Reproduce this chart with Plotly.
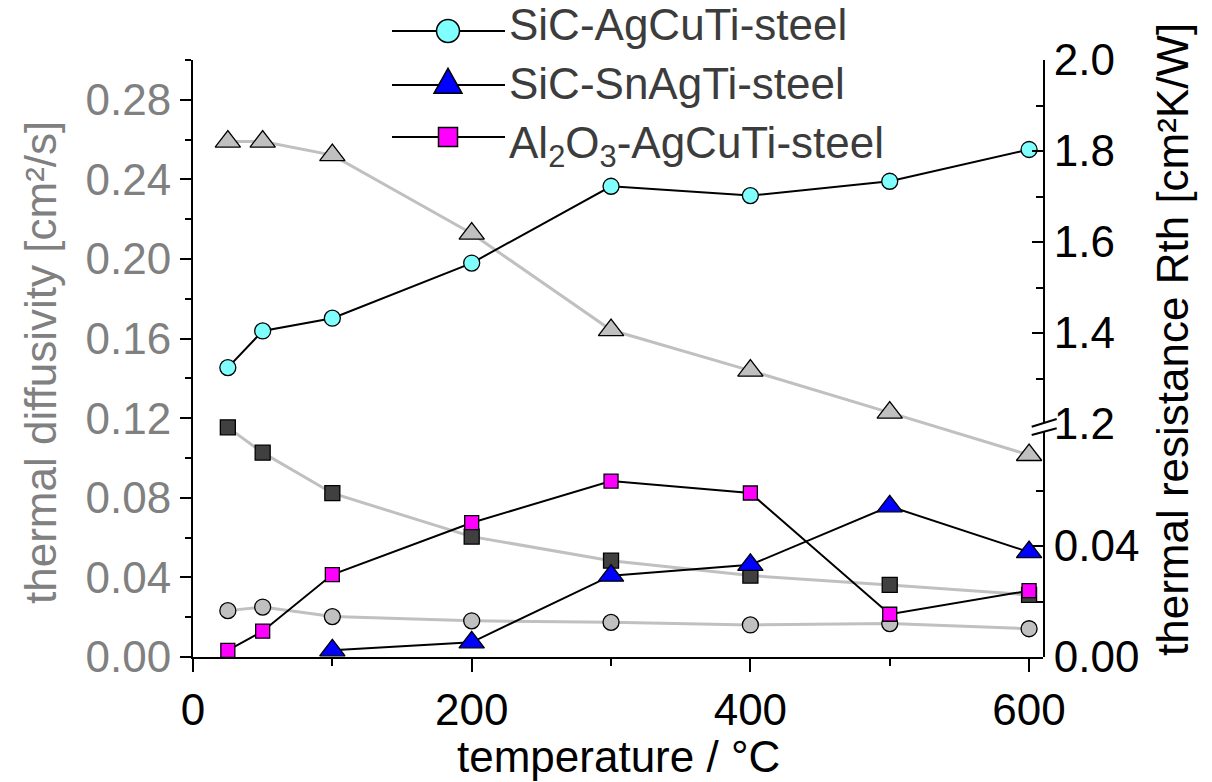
import plotly.graph_objects as go

# ---- data -------------------------------------------------------------
temperature = [25, 50, 100, 200, 300, 400, 500, 600]
temperature_snagti = [100, 200, 300, 400, 500, 600]

# thermal diffusivity [cm²/s] (left axis, grey symbols)
diff_sic_agcuti = [0.0233, 0.0251, 0.0203, 0.0182, 0.0174, 0.0161, 0.0168, 0.0142]
diff_sic_snagti = [0.259, 0.259, 0.2522, 0.2128, 0.1643, 0.1439, 0.1228, 0.1015]
diff_al2o3_agcuti = [0.1154, 0.1027, 0.0823, 0.0605, 0.0484, 0.0409, 0.0362, 0.0312]

# thermal resistance Rth [cm²K/W] (right, broken axis, coloured symbols)
rth_sic_agcuti = [1.324, 1.4045, 1.4325, 1.5537, 1.7225, 1.702, 1.7335, 1.8033]
rth_sic_snagti = [0.0024, 0.0053, 0.0293, 0.0332, 0.0543, 0.0378]
rth_al2o3_agcuti = [0.0024, 0.0093, 0.0297, 0.0484, 0.0634, 0.0591, 0.0154, 0.0239]

series_names = ["SiC-AgCuTi-steel", "SiC-SnAgTi-steel",
                "Al<sub>2</sub>O<sub>3</sub>-AgCuTi-steel"]

x_ticks = [0, 200, 400, 600]
left_ticks = [0.00, 0.04, 0.08, 0.12, 0.16, 0.20, 0.24, 0.28]
right_low_ticks = [0.00, 0.04]
right_high_ticks = [1.2, 1.4, 1.6, 1.8, 2.0]

# ---- geometry (pixels) ------------------------------------------------
W, H = 1212, 782
L, R, T, B = 193, 1043, 60, 657
BREAK_Y = 424
split = (B - BREAK_Y) / (B - T)

FONT = "Liberation Sans, Arial, sans-serif"
GREY_TXT = "#808080"
GREY_LINE = "#c0c0c0"


def paper(xp, yp):
    return (xp - L) / (R - L), (B - yp) / (B - T)


fig = go.Figure()

# grey diffusivity curves
grey_style = [
    (diff_sic_snagti, "triangle-up", 22, "#c0c0c0"),
    (diff_al2o3_agcuti, "square", 15, "#404040"),
    (diff_sic_agcuti, "circle", 16, "#c0c0c0"),
]
for vals, sym, size, col in grey_style:
    fig.add_trace(go.Scatter(
        x=temperature, y=vals, mode="lines+markers", xaxis="x", yaxis="y",
        line=dict(color=GREY_LINE, width=3),
        marker=dict(symbol=sym, size=size, color=col, line=dict(color="black", width=1.3)),
        cliponaxis=False, showlegend=False))

# coloured resistance curves
fig.add_trace(go.Scatter(
    x=temperature, y=rth_al2o3_agcuti, mode="lines+markers", xaxis="x", yaxis="y2",
    line=dict(color="black", width=2),
    marker=dict(symbol="square", size=14, color="#ff00ff", line=dict(color="black", width=1.3)),
    cliponaxis=False, showlegend=False))
fig.add_trace(go.Scatter(
    x=temperature_snagti, y=rth_sic_snagti, mode="lines+markers", xaxis="x", yaxis="y2",
    line=dict(color="black", width=2),
    marker=dict(symbol="triangle-up", size=22, color="#0000ff", line=dict(color="black", width=1.3)),
    cliponaxis=False, showlegend=False))
fig.add_trace(go.Scatter(
    x=temperature, y=rth_sic_agcuti, mode="lines+markers", xaxis="x", yaxis="y3",
    line=dict(color="black", width=2),
    marker=dict(symbol="circle", size=16, color="#80ffff", line=dict(color="black", width=1.3)),
    cliponaxis=False, showlegend=False))

axis_common = dict(showgrid=False, zeroline=False, showline=True, linecolor="black",
                   linewidth=2, tickwidth=2, tickcolor="black")

fig.update_layout(
    width=W, height=H,
    margin=dict(l=L, r=W - R, t=T, b=H - B),
    paper_bgcolor="white", plot_bgcolor="rgba(0,0,0,0)",
    font=dict(family=FONT, size=44, color="black"),
    xaxis=dict(**axis_common, range=[0, 610], tickvals=x_ticks, ticks="outside",
               ticklen=13, tickfont=dict(size=44, color="black"),
               minor=dict(tickvals=[100, 300, 500], ticklen=7, ticks="outside",
                          tickwidth=2, tickcolor="black"),
               anchor="y"),
    yaxis=dict(**axis_common, range=[0, 0.30], tickvals=left_ticks, tickformat=".2f",
               ticks="outside", ticklen=11, tickfont=dict(size=44, color=GREY_TXT),
               minor=dict(dtick=0.02, tick0=0, ticklen=6, ticks="outside",
                          tickwidth=2, tickcolor="black"),
               anchor="x", domain=[0, 1]),
    yaxis2=dict(**axis_common, range=[0, (B - BREAK_Y) / 2775.0], domain=[0, split],
                tickvals=right_low_ticks, tickformat=".2f", ticks="inside", ticklen=11,
                side="right", anchor="x", tickfont=dict(size=44, color="black"),
                minor=dict(tickvals=[0.02, 0.06], ticklen=7, ticks="inside",
                           tickwidth=2, tickcolor="black")),
    yaxis3=dict(**axis_common, range=[1.2, 2.0], domain=[split, 1],
                tickvals=right_high_ticks, tickformat=".1f", ticks="inside", ticklen=11,
                side="right", anchor="x", tickfont=dict(size=44, color="black"),
                minor=dict(tickvals=[1.3, 1.5, 1.7, 1.9], ticklen=7, ticks="inside",
                           tickwidth=2, tickcolor="black")),
)

# axis titles
fig.add_annotation(text="temperature / °C", xref="paper", yref="paper",
                   x=0.5, y=0, yshift=-(756 - B), xanchor="center", yanchor="middle",
                   showarrow=False, font=dict(size=44, color="black"))
fig.add_annotation(text="thermal diffusivity [cm²/s]", xref="paper", yref="paper",
                   x=0, xshift=40 - L, y=paper(0, 363)[1], textangle=-90,
                   xanchor="center", yanchor="middle", showarrow=False,
                   font=dict(size=44, color=GREY_TXT))
fig.add_annotation(text="thermal resistance Rth [cm²K/W]", xref="paper", yref="paper",
                   x=1, xshift=1172 - R, y=paper(0, 340)[1], textangle=-90,
                   xanchor="center", yanchor="middle", showarrow=False,
                   font=dict(size=44, color="black"))

# axis break marks on the right axis
shapes = []
bx0, bx1 = 1031.7, 1056.7
x0p, _ = paper(bx0, 0)
x1p, _ = paper(bx1, 0)
_, ya0 = paper(0, 426.7)
_, ya1 = paper(0, 419.0)
_, yb0 = paper(0, 435.0)
_, yb1 = paper(0, 428.3)
shapes.append(dict(type="path", xref="paper", yref="paper", layer="above",
                   path=f"M{x0p},{ya0} L{x1p},{ya1} L{x1p},{yb1} L{x0p},{yb0} Z",
                   fillcolor="white", line=dict(width=0)))
for (y0, y1) in [(ya0, ya1), (yb0, yb1)]:
    shapes.append(dict(type="line", xref="paper", yref="paper", layer="above",
                       x0=x0p, y0=y0, x1=x1p, y1=y1, line=dict(color="black", width=2)))

# legend (line + symbol + label)
leg_x0, leg_x1, leg_xc, text_x = 392, 505, 448, 507
leg_rows = [31, 85, 137]
text_rows = [22, 81, 140]
leg_glyph = [("circle", "#80ffff"), ("triangle", "#0000ff"), ("square", "#ff00ff")]
for name, gy, ty, (kind, col) in zip(series_names, leg_rows, text_rows, leg_glyph):
    xa, ya = paper(leg_x0, gy)
    xb, _ = paper(leg_x1, gy)
    shapes.append(dict(type="line", xref="paper", yref="paper", layer="above",
                       x0=xa, y0=ya, x1=xb, y1=ya, line=dict(color="black", width=1.8)))
    if kind == "circle":
        r = 11.5
        cx0, cy0 = paper(leg_xc - r, gy + r)
        cx1, cy1 = paper(leg_xc + r, gy - r)
        shapes.append(dict(type="circle", xref="paper", yref="paper", layer="above",
                           x0=cx0, y0=cy0, x1=cx1, y1=cy1, fillcolor=col,
                           line=dict(color="black", width=1.5)))
    elif kind == "square":
        r = 9.5
        cx0, cy0 = paper(leg_xc - r, gy + r)
        cx1, cy1 = paper(leg_xc + r, gy - r)
        shapes.append(dict(type="rect", xref="paper", yref="paper", layer="above",
                           x0=cx0, y0=cy0, x1=cx1, y1=cy1, fillcolor=col,
                           line=dict(color="black", width=1.5)))
    else:
        hw, hh = 14, 25
        p1 = paper(leg_xc - hw, gy + hh / 3)
        p2 = paper(leg_xc + hw, gy + hh / 3)
        p3 = paper(leg_xc, gy - 2 * hh / 3)
        shapes.append(dict(type="path", xref="paper", yref="paper", layer="above",
                           path=f"M{p1[0]},{p1[1]} L{p2[0]},{p2[1]} L{p3[0]},{p3[1]} Z",
                           fillcolor=col, line=dict(color="black", width=1.5)))
    fig.add_annotation(text=name, xref="paper", yref="paper",
                       x=paper(text_x, 0)[0], y=paper(0, ty - 24)[1],
                       xanchor="left", yanchor="top", showarrow=False,
                       font=dict(size=44, color="#3c3c3c"))

fig.update_layout(shapes=shapes)

fig.write_html("out.html")
